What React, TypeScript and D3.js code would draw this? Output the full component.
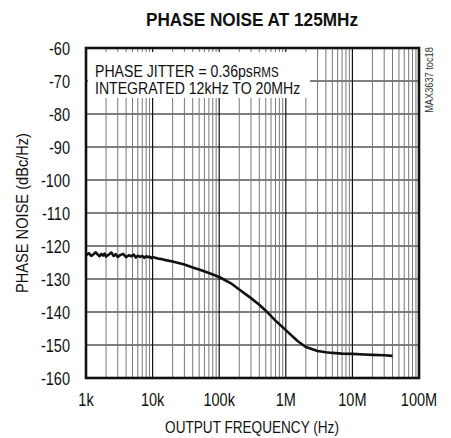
import React from "react";
import * as d3 from "d3";

const freqs: number[] = [
  1000, 1100, 1200, 1300, 1400, 1500, 1600, 1700, 1800, 1900, 2000, 2200, 2400, 2600, 2800, 3000,
  3300, 3600, 4000, 4400, 4800, 5200, 5600, 6000, 6500, 7000, 7500, 8000, 8500, 9000, 9500, 10000,
  11000, 12000, 13000, 14000, 15000, 20000, 30000, 40000, 50000, 70000, 100000, 150000, 200000,
  300000, 400000, 500000, 700000, 1000000, 1500000, 2000000, 3000000, 4000000, 5000000, 7000000,
  10000000, 15000000, 20000000, 30000000, 40000000,
];
const noise: number[] = [
  -122.8, -122.2, -123.0, -122.5, -121.9, -122.6, -123.1, -122.4, -122.9, -122.3, -123.2, -122.6,
  -122.0, -123.0, -122.5, -123.3, -122.7, -122.4, -123.4, -122.8, -123.1, -122.6, -123.5, -122.9,
  -123.3, -123.0, -123.6, -123.1, -123.4, -123.2, -123.7, -123.3, -123.6, -123.8, -123.9, -124.0,
  -124.2, -124.7, -125.6, -126.5, -127.1, -128.2, -129.4, -131.3, -133.2, -135.8, -137.8, -139.6,
  -142.6, -145.5, -148.8, -150.6, -151.8, -152.2, -152.4, -152.6, -152.7, -152.9, -153.0, -153.1,
  -153.3,
];
const yTicks: number[] = [-60, -70, -80, -90, -100, -110, -120, -130, -140, -150, -160];
const xTicks: number[] = [1e3, 1e4, 1e5, 1e6, 1e7, 1e8];
const xTickLabels: string[] = ["1k", "10k", "100k", "1M", "10M", "100M"];

const FONT = "'Liberation Sans', Arial, sans-serif";
const SX = 0.83;

function NT(props: {
  x: number; y: number; size: number; anchor?: string; bold?: boolean; sx?: number;
  rotate?: number; fill?: string; children: React.ReactNode;
}) {
  const { x, y, size, anchor = "start", bold = false, sx = SX, rotate = 0, fill = "#111" } = props;
  return (
    <g transform={`translate(${x},${y}) rotate(${rotate}) scale(${sx},1)`}>
      <text x={0} y={0} textAnchor={anchor} fontFamily={FONT} fontSize={size}
        fontWeight={bold ? "bold" : "normal"} fill={fill}>
        {props.children}
      </text>
    </g>
  );
}

export default function App() {
  const W = 451, H = 438;
  const L = 86, R = 419, T = 48, B = 378;
  const x = d3.scaleLog().domain([1e3, 1e8]).range([L, R]);
  const y = d3.scaleLinear().domain([-60, -160]).range([T, B]);

  const minor: number[] = [];
  const major: number[] = [];
  for (let e = 3; e < 8; e++) {
    for (let m = 1; m <= 9; m++) {
      const v = m * Math.pow(10, e);
      if (m === 1) { if (e > 3) major.push(v); } else minor.push(v);
    }
  }

  const line = d3.line<number>().x((_, i) => x(freqs[i])).y((d) => y(d));

  return (
    <svg width={W} height={H} style={{ position: "absolute", left: 0, top: 0, background: "#fff" }}>
      <NT x={252} y={26} size={18.5} anchor="middle" bold sx={0.93}>PHASE NOISE AT 125MHz</NT>
      {yTicks.slice(1, -1).map((t) => (
        <line key={"h" + t} x1={L} x2={R} y1={y(t)} y2={y(t)} stroke="#555" strokeWidth={1.3} />
      ))}
      {minor.map((v) => (
        <line key={"mi" + v} x1={x(v)} x2={x(v)} y1={T} y2={B} stroke="#777" strokeWidth={1} />
      ))}
      {major.map((v) => (
        <line key={"ma" + v} x1={x(v)} x2={x(v)} y1={T} y2={B} stroke="#111" strokeWidth={1.2} />
      ))}
      <rect x={L + 2} y={T + 4} width={222} height={46} fill="#fff" />
      <NT x={95} y={77} size={17}>
        PHASE JITTER = 0.36ps<tspan fontSize={14}>RMS</tspan>
      </NT>
      <NT x={95} y={94} size={17}>INTEGRATED 12kHz TO 20MHz</NT>
      <path d={line(noise) || ""} fill="none" stroke="#111" strokeWidth={2.6} strokeLinejoin="round" />
      <rect x={L} y={T} width={R - L} height={B - T} fill="none" stroke="#111" strokeWidth={2.6} />
      {yTicks.map((t) => (
        <NT key={"yl" + t} x={70} y={y(t) + 6.5} size={17.5} anchor="end">{"-" + Math.abs(t)}</NT>
      ))}
      {xTicks.map((t, i) => (
        <NT key={"xl" + t} x={x(t)} y={406} size={17.5} anchor="middle">{xTickLabels[i]}</NT>
      ))}
      <NT x={252} y={433} size={17} anchor="middle" sx={0.8}>OUTPUT FREQUENCY (Hz)</NT>
      <NT x={28} y={(T + B) / 2} size={17} anchor="middle" rotate={-90} sx={0.86}>PHASE NOISE (dBc/Hz)</NT>
      <NT x={433} y={80} size={10.5} anchor="middle" rotate={-90} sx={0.88} fill="#333">MAX3637 toc18</NT>
    </svg>
  );
}
